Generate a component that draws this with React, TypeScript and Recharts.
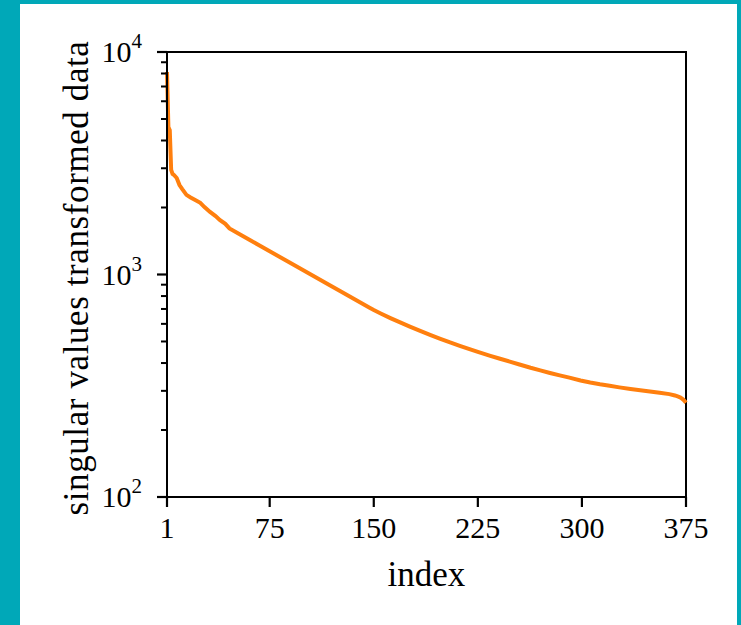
import { ComposedChart, Line, Scatter, XAxis, YAxis, Label, ReferenceArea } from 'recharts'

// sampled singular values (index -> value)
const indices = [
  1, 2, 3, 4, 5, 6, 8, 10, 12, 15, 18, 20, 25, 28, 32, 36, 39, 43, 46, 54, 61, 68, 75,
  82, 90, 97, 104, 111, 118, 126, 133, 140, 147, 150, 155, 162, 169, 176, 183, 191, 198, 205,
  212, 219, 225, 234, 241, 248, 255, 263, 270, 277, 284, 291, 299, 306, 313, 320, 327, 335,
  342, 349, 356, 363, 367, 369, 371, 373, 374, 375,
]
const values = [
  8130, 4600, 4450, 2950, 2830, 2800, 2715, 2525, 2420, 2280, 2220, 2185, 2100, 2010, 1910,
  1830, 1760, 1690, 1611, 1510, 1426, 1347, 1272, 1202, 1126, 1064, 1005, 950, 897, 841, 794,
  750, 709, 692, 668, 637, 609, 583, 559, 534, 514, 495, 478, 462, 449, 431, 418, 406, 394,
  381, 371, 361, 352, 344, 334, 327, 321, 316, 311, 306, 302, 298, 294, 290, 286, 283, 280,
  274, 270, 265,
]

const xTicks = [1, 75, 150, 225, 300, 375]
const yMajorValues = [100, 1000, 10000]
const yMinorValues = [
  200, 300, 400, 500, 600, 700, 800, 900,
  2000, 3000, 4000, 5000, 6000, 7000, 8000, 9000,
]

// the y axis runs in log10 units
const data = indices.map((index, i) => ({ index, logValue: Math.log10(values[i]) }))
const yMajor = yMajorValues.map((v) => Math.log10(v))
// minor ticks sit on the left spine (x = 1)
const minorRows = yMinorValues.map((v) => ({ index: 1, logValue: Math.log10(v) }))
const yDomain = [Math.log10(100), Math.log10(10000)]

const FONT = '"Liberation Serif", serif'

function DecadeTick(props: any) {
  const { x, y, payload } = props
  const exp = Math.round(Number(payload.value))
  return (
    <g>
      <line x1={x} x2={x - 10} y1={y} y2={y} stroke="#000" strokeWidth={2.2} />
      <text x={x - 25} y={y + 10} textAnchor="end" fontFamily={FONT} fontSize={30} fill="#000">
        <tspan>10</tspan>
        <tspan dy={-14} fontSize={21}>
          {exp}
        </tspan>
      </text>
    </g>
  )
}

// short outward tick drawn left of the spine
function MinorTick(props: any) {
  const { cx, cy } = props
  return <line x1={cx} x2={cx - 6} y1={cy} y2={cy} stroke="#000" strokeWidth={2} />
}

export default function App() {
  return (
    <div style={{ position: 'absolute', left: 0, top: 0, width: 741, height: 625, background: '#00a8b8' }}>
      <div style={{ position: 'absolute', left: 20, top: 4, width: 717, height: 621, background: '#fff' }} />
      <div style={{ position: 'absolute', left: 0, top: 0 }}>
        <ComposedChart width={741} height={625} data={data} margin={{ top: 52, right: 55, bottom: 68, left: 97 }}>
          <XAxis
            dataKey="index"
            type="number"
            domain={[1, 375]}
            ticks={xTicks}
            interval={0}
            height={60}
            tickSize={10}
            tickMargin={10}
            stroke="#000"
            strokeWidth={2}
            tickLine={{ stroke: '#000', strokeWidth: 2.2 }}
            tick={{ fill: '#000', fontSize: 30, fontFamily: FONT }}
          >
            <Label
              content={() => (
                <text x={426.5} y={586} textAnchor="middle" fontFamily={FONT} fontSize={35} fill="#000">
                  index
                </text>
              )}
            />
          </XAxis>
          <YAxis
            dataKey="logValue"
            type="number"
            domain={yDomain}
            allowDataOverflow
            ticks={yMajor}
            interval={0}
            width={70}
            tickSize={0}
            tickMargin={0}
            tickLine={false}
            tick={<DecadeTick />}
            stroke="#000"
            strokeWidth={2}
          >
            <Label
              content={() => (
                <text
                  x={88}
                  y={278}
                  transform="rotate(-90, 88, 278)"
                  textAnchor="middle"
                  fontFamily={FONT}
                  fontSize={35}
                  letterSpacing={0.6}
                  fill="#000"
                >
                  singular values transformed data
                </text>
              )}
            />
          </YAxis>
          <Scatter data={minorRows} dataKey="logValue" shape={MinorTick} isAnimationActive={false} />
          <Line
            type="linear"
            dataKey="logValue"
            stroke="#ff7f0e"
            strokeWidth={4}
            dot={false}
            isAnimationActive={false}
          />
          {/* axes frame */}
          <ReferenceArea
            x1={1}
            x2={375}
            y1={yDomain[0]}
            y2={yDomain[1]}
            fill="none"
            fillOpacity={0}
            stroke="#000"
            strokeWidth={2}
            strokeOpacity={1}
            ifOverflow="visible"
          />
        </ComposedChart>
      </div>
    </div>
  )
}
